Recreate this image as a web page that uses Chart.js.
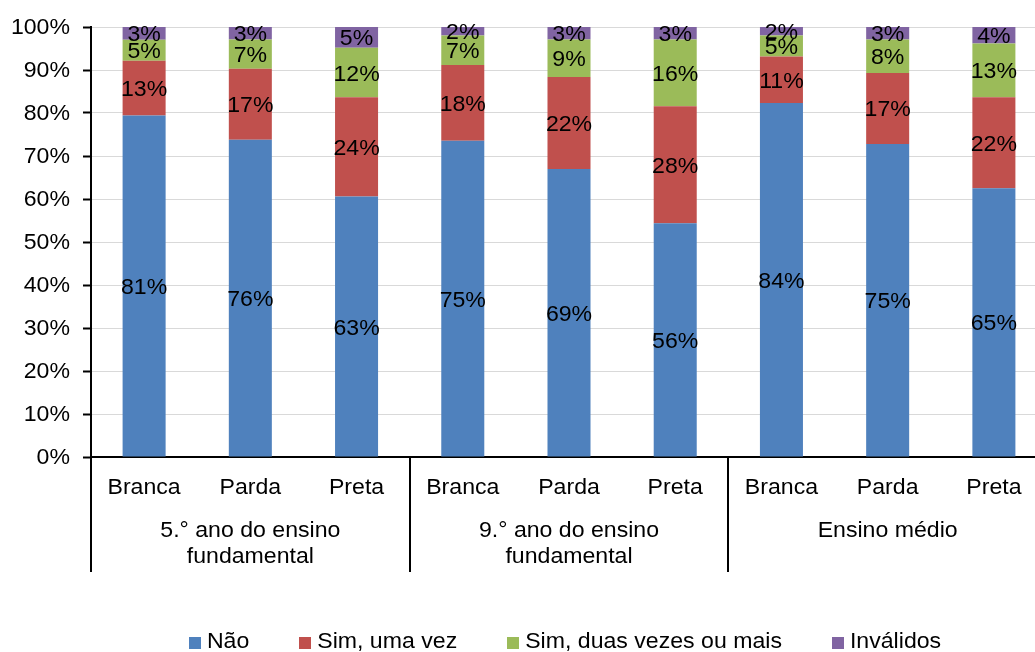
<!DOCTYPE html>
<html>
<head>
<meta charset="utf-8">
<script src="https://cdn.jsdelivr.net/npm/chart.js@4"></script>
<style>
  html, body { margin: 0; padding: 0; background: #fff; }
  #wrap { width: 1035px; height: 652px; overflow: hidden; position: relative; }
  #inner { width: 1047px; height: 652px; position: absolute; left: 0; top: 0; }
</style>
</head>
<body>
<div id="wrap"><div id="inner"><canvas id="c"></canvas></div></div>
<script>
const categories = ['Branca','Parda','Preta','Branca','Parda','Preta','Branca','Parda','Preta'];
const groups = [['5.° ano do ensino','fundamental'], ['9.° ano do ensino','fundamental'], ['Ensino médio']];
const seriesNames = ['Não', 'Sim, uma vez', 'Sim, duas vezes ou mais', 'Inválidos'];
const nao       = [81, 76, 63, 75, 69, 56, 84, 75, 65];
const simUma    = [13, 17, 24, 18, 22, 28, 11, 17, 22];
const simDuas   = [ 5,  7, 12,  7,  9, 16,  5,  8, 13];
const invalidos = [ 3,  3,  5,  2,  3,  3,  2,  3,  4];
const yTicks = [0,10,20,30,40,50,60,70,80,90,100];
const colors = ['#4F81BD', '#C0504D', '#9BBB59', '#8064A2'];

const FONT = '"Liberation Sans", Arial, sans-serif';
const FS = 22;
const SX = 1.05; // horizontal stretch of text
const raw = [nao, simUma, simDuas, invalidos];
const totals = categories.map((_, i) => raw.reduce((s, a) => s + a[i], 0));

const datasets = raw.map((arr, k) => ({
  label: seriesNames[k],
  data: arr.map((v, i) => v / totals[i] * 100),
  rawValues: arr,
  backgroundColor: colors[k],
  borderWidth: 0,
  barPercentage: 0.405,
  categoryPercentage: 1.0
}));

function txt(ctx, s, x, y, align) {
  ctx.save();
  ctx.translate(x, y);
  ctx.scale(SX, 1);
  ctx.textAlign = align || 'center';
  ctx.fillText(s, 0, 0);
  ctx.restore();
}

const overlay = {
  id: 'overlay',
  afterDatasetsDraw(chart) {
    const ctx = chart.ctx;
    ctx.save();
    ctx.font = FS + 'px ' + FONT;
    ctx.fillStyle = '#000';
    ctx.textBaseline = 'middle';
    chart.data.datasets.forEach((ds, k) => {
      const meta = chart.getDatasetMeta(k);
      meta.data.forEach((el, i) => {
        const p = el.getProps(['x','y','base'], true);
        txt(ctx, ds.rawValues[i] + '%', p.x, (p.y + p.base) / 2 + 2);
      });
    });
    ctx.restore();
  },
  afterDraw(chart) {
    const ctx = chart.ctx;
    const xs = chart.scales.x;
    const ys = chart.scales.y;
    const area = chart.chartArea;
    const step = xs.getPixelForValue(1) - xs.getPixelForValue(0);
    ctx.save();
    ctx.font = FS + 'px ' + FONT;
    ctx.fillStyle = '#000';
    ctx.textBaseline = 'middle';
    // y tick labels
    yTicks.forEach(v => txt(ctx, v + '%', 70, ys.getPixelForValue(v) + 1, 'right'));
    categories.forEach((c, i) => {
      txt(ctx, c, xs.getPixelForValue(i), area.bottom + 31);
    });
    groups.forEach((lines, g) => {
      const cx = xs.getPixelForValue(g * 3 + 1);
      lines.forEach((t, j) => txt(ctx, t, cx, area.bottom + 74 + j * 26));
    });
    // separators
    ctx.strokeStyle = '#000';
    ctx.lineWidth = 2;
    for (let g = 0; g <= 3; g++) {
      const x = g === 0 ? area.left : xs.getPixelForValue(g * 3 - 1) + step / 2;
      ctx.beginPath();
      ctx.moveTo(Math.round(x), area.bottom);
      ctx.lineTo(Math.round(x), area.bottom + 115);
      ctx.stroke();
    }
    // legend
    const box = 12, gap = 6, spacing = 50;
    const widths = seriesNames.map(n => box + gap + ctx.measureText(n).width * SX);
    const total = widths.reduce((a, b) => a + b, 0) + spacing * (widths.length - 1);
    let x = 565 - total / 2;
    const ly = 642;
    seriesNames.forEach((n, k) => {
      ctx.fillStyle = colors[k];
      ctx.fillRect(Math.round(x), ly - 5, box, box);
      ctx.fillStyle = '#000';
      txt(ctx, n, x + box + gap, ly, 'left');
      x += widths[k] + spacing;
    });
    ctx.restore();
  }
};

new Chart(document.getElementById('c'), {
  type: 'bar',
  data: { labels: categories, datasets },
  plugins: [overlay],
  options: {
    responsive: true,
    maintainAspectRatio: false,
    animation: false,
    layout: { padding: { top: 27, right: 0, left: 0, bottom: 0 } },
    plugins: { legend: { display: false }, tooltip: { enabled: false } },
    scales: {
      x: {
        stacked: true,
        grid: { display: false },
        border: { display: true, color: '#000', width: 2 },
        ticks: { display: false },
        afterFit(scale) { scale.height = 195; }
      },
      y: {
        stacked: true,
        min: 0, max: 100,
        afterBuildTicks(scale) { scale.ticks = yTicks.map(v => ({ value: v })); },
        ticks: { display: false },
        grid: { color: '#D9D9D9', lineWidth: 1, tickLength: 8, tickColor: '#000', tickWidth: 2 },
        border: { display: true, color: '#000', width: 2 },
        afterFit(scale) { scale.width = 91; }
      }
    }
  }
});
</script>
</body>
</html>
